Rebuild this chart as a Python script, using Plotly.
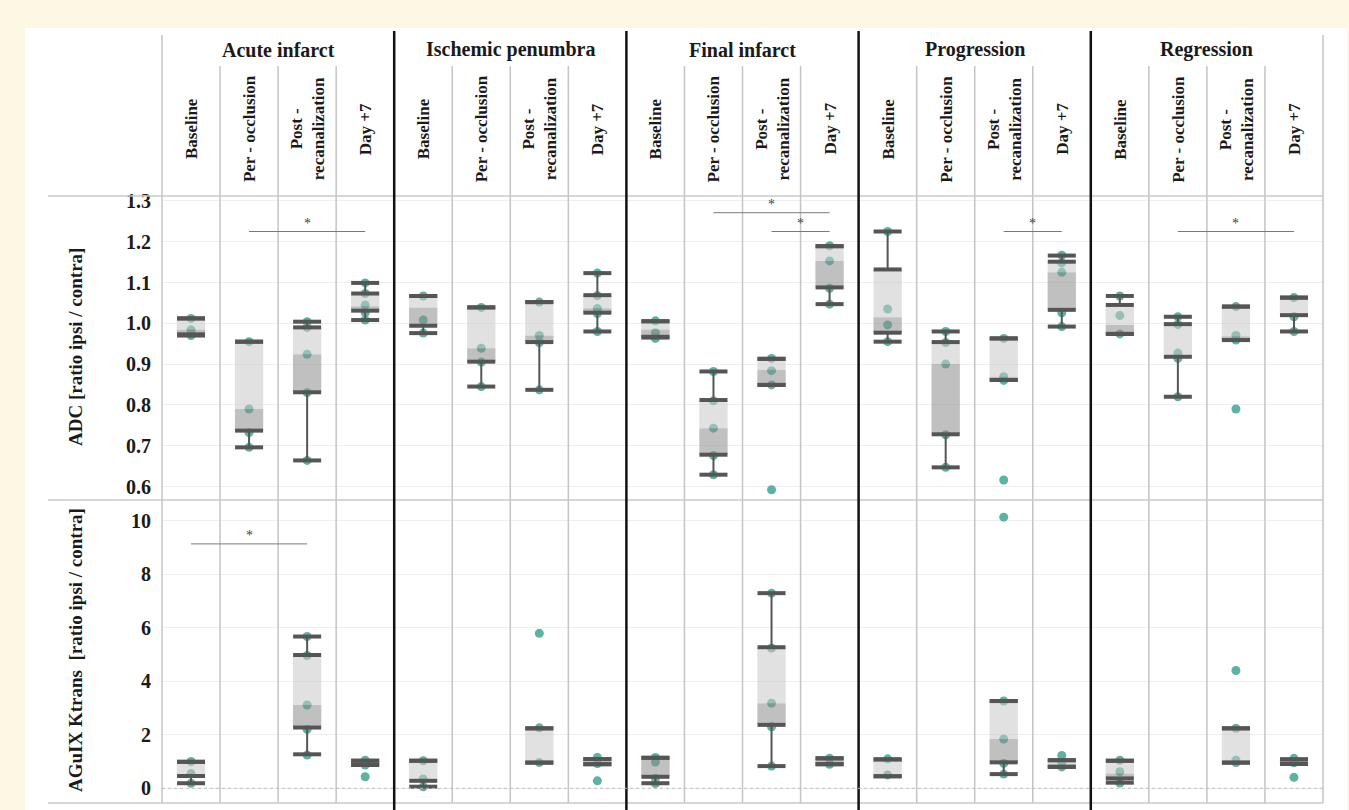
import plotly.graph_objects as go

# ---------------- data ----------------
groups = ["Acute infarct", "Ischemic penumbra", "Final infarct", "Progression", "Regression"]
phases = ["Baseline", "Per - occlusion", "Post -<br>recanalization", "Day +7"]

adc_ticks = [0.6, 0.7, 0.8, 0.9, 1.0, 1.1, 1.2, 1.3]
kt_ticks = [0, 2, 4, 6, 8, 10]

# ADC box statistics, one value per column (group x phase)
adc_low = [0.970, 0.696, 0.664, 1.008, 0.976, 0.845, 0.837, 0.980, 0.965, 0.629, 0.849, 1.047,
           0.955, 0.647, 0.861, 0.992, 0.974, 0.820, 0.959, 0.980]
adc_q1 = [0.973, 0.737, 0.831, 1.031, 0.994, 0.906, 0.954, 1.026, 0.967, 0.678, 0.849, 1.088,
          0.977, 0.728, 0.861, 1.033, 0.974, 0.918, 0.959, 1.020]
adc_med = [0.985, 0.790, 0.924, 1.042, 1.039, 0.939, 0.970, 1.037, 0.985, 0.743, 0.886, 1.153,
           1.015, 0.900, 0.869, 1.125, 0.996, 0.920, 0.968, 1.020]
adc_q3 = [1.012, 0.955, 0.990, 1.073, 1.067, 1.039, 1.052, 1.069, 1.005, 0.812, 0.913, 1.189,
          1.132, 0.954, 0.963, 1.151, 1.045, 0.998, 1.041, 1.063]
adc_high = [1.012, 0.955, 1.004, 1.099, 1.067, 1.039, 1.052, 1.123, 1.005, 0.882, 0.913, 1.189,
            1.225, 0.980, 0.963, 1.166, 1.067, 1.016, 1.041, 1.063]
adc_points = [
    [1.012, 0.984, 0.970, 0.975],
    [0.955, 0.790, 0.732, 0.696],
    [1.004, 0.990, 0.924, 0.830, 0.664],
    [1.099, 1.073, 1.045, 1.026, 1.008],
    [1.067, 1.008, 0.976],
    [1.039, 0.939, 0.905, 0.845],
    [1.052, 0.970, 0.953, 0.837],
    [1.123, 1.068, 1.036, 1.024, 0.980],
    [1.006, 0.977, 0.963],
    [0.882, 0.810, 0.743, 0.676, 0.629],
    [0.914, 0.884, 0.849, 0.592],
    [1.190, 1.153, 1.086, 1.047],
    [1.225, 1.035, 0.996, 0.955],
    [0.980, 0.953, 0.900, 0.727, 0.647],
    [0.963, 0.869, 0.860, 0.616],
    [1.167, 1.148, 1.125, 1.026, 0.992],
    [1.067, 1.019, 0.974],
    [1.016, 0.997, 0.927, 0.914, 0.820],
    [1.041, 0.970, 0.959, 0.790],
    [1.063, 1.016, 0.980],
]

# AGuIX Ktrans box statistics (None = no measurement)
kt_low = [0.19, None, 1.27, 0.87, 0.06, None, 0.96, 0.90, 0.19, None, 0.83, 0.90,
          0.45, None, 0.53, 0.80, 0.21, None, 0.96, 0.91]
kt_q1 = [0.46, None, 2.27, 0.87, 0.28, None, 0.96, 0.90, 0.43, None, 2.37, 0.90,
         0.45, None, 0.97, 0.80, 0.37, None, 0.96, 0.91]
kt_med = [0.48, None, 3.11, 0.95, 0.30, None, 0.96, 0.97, 1.10, None, 3.18, 1.08,
          0.47, None, 1.84, 0.92, 0.55, None, 0.96, 0.95]
kt_q3 = [0.99, None, 4.98, 1.03, 1.03, None, 2.24, 1.09, 1.14, None, 5.27, 1.12,
         1.08, None, 3.26, 1.05, 1.03, None, 2.24, 1.08]
kt_high = [0.99, None, 5.67, 1.03, 1.03, None, 2.24, 1.09, 1.14, None, 7.29, 1.12,
           1.08, None, 3.26, 1.05, 1.03, None, 2.24, 1.08]
kt_points = [
    [1.00, 0.55, 0.19],
    [],
    [5.67, 4.96, 3.11, 2.20, 1.24],
    [1.05, 0.87, 0.43],
    [1.03, 0.35, 0.06],
    [],
    [2.26, 0.96, 5.79],
    [1.15, 0.92, 0.28],
    [1.15, 0.98, 0.38, 0.18],
    [],
    [7.29, 5.24, 3.18, 2.30, 0.83],
    [1.12, 0.90],
    [1.10, 0.50],
    [],
    [10.13, 3.26, 1.84, 0.93, 0.53],
    [1.23, 0.98, 0.80],
    [1.05, 0.62, 0.20],
    [],
    [2.24, 1.05, 0.96, 4.40],
    [1.12, 0.95, 0.41],
]

# significance brackets: (from column, to column, level)
adc_sig = [(1, 3, 1.225), (9, 11, 1.271), (10, 11, 1.225), (14, 15, 1.225), (17, 19, 1.225)]
kt_sig = [(0, 2, 9.13)]

# ---------------- styling ----------------
TEAL = "#5cb3a4"
DARK = "#555555"
LIGHT_FILL = "rgba(200,200,200,0.55)"
DARK_FILL = "rgba(140,140,140,0.55)"
SERIF = "Liberation Serif"
TXT = "#1a1a1a"
HW = 0.244  # half box width in column units

W, H = 1349, 810
ML, MR, MT, MB = 162, 26, 196, 7
PW = W - ML - MR
PH = H - MT - MB
ncol = len(groups) * len(phases)


def py2paper(py):
    return (H - MB - py) / PH


def px2paper(px):
    return (px - ML) / PW


fig = go.Figure()


def add_metric(lo, q1, med, q3, hi, pts, yax):
    xs, ys = [], []
    for i, p in enumerate(pts):
        for v in p:
            xs.append(i)
            ys.append(v)
    fig.add_trace(go.Scatter(x=xs, y=ys, mode="markers", yaxis=yax, hoverinfo="y",
                             marker=dict(color=TEAL, size=9, line=dict(width=0))))
    dx, dy, lx, ly, wx, wy, cx, cy = [], [], [], [], [], [], [], []
    for i in range(len(lo)):
        if q1[i] is None:
            continue
        dx += [i - HW, i + HW, i + HW, i - HW, i - HW, None]
        dy += [q1[i], q1[i], med[i], med[i], q1[i], None]
        lx += [i - HW, i + HW, i + HW, i - HW, i - HW, None]
        ly += [med[i], med[i], q3[i], q3[i], med[i], None]
        wx += [i, i, None, i, i, None]
        wy += [lo[i], q1[i], None, q3[i], hi[i], None]
        cx += [i, i, i, i]
        cy += [lo[i], q1[i], q3[i], hi[i]]
    fig.add_trace(go.Scatter(x=dx, y=dy, mode="lines", fill="toself", fillcolor=DARK_FILL,
                             line=dict(width=0), yaxis=yax, hoverinfo="skip"))
    fig.add_trace(go.Scatter(x=lx, y=ly, mode="lines", fill="toself", fillcolor=LIGHT_FILL,
                             line=dict(width=0), yaxis=yax, hoverinfo="skip"))
    fig.add_trace(go.Scatter(x=wx, y=wy, mode="lines", line=dict(color=DARK, width=2),
                             yaxis=yax, hoverinfo="skip"))
    fig.add_trace(go.Scatter(x=cx, y=cy, mode="markers", yaxis=yax, hoverinfo="skip",
                             marker=dict(symbol="line-ew", size=20,
                                         line=dict(color=DARK, width=4))))


add_metric(adc_low, adc_q1, adc_med, adc_q3, adc_high, adc_points, "y2")
add_metric(kt_low, kt_q1, kt_med, kt_q3, kt_high, kt_points, "y")

shapes = []
annotations = []

# white panel
shapes.append(dict(type="rect", xref="paper", yref="paper", x0=px2paper(25), x1=px2paper(1347),
                   y0=py2paper(812), y1=py2paper(28), fillcolor="white", line=dict(width=0),
                   layer="below"))
# horizontal separators
for pyv in [196, 500, 803]:
    shapes.append(dict(type="line", xref="paper", yref="paper", x0=px2paper(48), x1=1,
                       y0=py2paper(pyv), y1=py2paper(pyv), line=dict(color="#c9c9c9", width=1.5)))
# vertical separators
for b in range(ncol + 1):
    xp = b / ncol
    if b == 0 or b == ncol:
        shapes.append(dict(type="line", xref="paper", yref="paper", x0=xp, x1=xp,
                           y0=0, y1=py2paper(35), line=dict(color="#c4c4c4", width=1.5)))
    elif b % len(phases) == 0:
        shapes.append(dict(type="line", xref="paper", yref="paper", x0=xp, x1=xp,
                           y0=py2paper(812), y1=py2paper(31), line=dict(color="#111111", width=2.5)))
    else:
        shapes.append(dict(type="line", xref="paper", yref="paper", x0=xp, x1=xp,
                           y0=0, y1=py2paper(66), line=dict(color="#c4c4c4", width=1.5)))
# dotted zero line for Ktrans
shapes.append(dict(type="line", xref="paper", yref="y", x0=0, x1=1, y0=0, y1=0,
                   line=dict(color="#bdbdbd", width=1, dash="dot")))

# significance brackets
for (a, b, lev), yr in [(s, "y2") for s in adc_sig] + [(s, "y") for s in kt_sig]:
    shapes.append(dict(type="line", xref="x", yref=yr, x0=a, x1=b, y0=lev, y1=lev,
                       line=dict(color="#7a7a7a", width=1)))
    annotations.append(dict(x=(a + b) / 2, y=lev, xref="x", yref=yr, text="*", showarrow=False,
                            xanchor="center", yanchor="bottom", yshift=-1,
                            font=dict(family=SERIF, size=14, color="#444444")))

# header labels
for g, name in enumerate(groups):
    annotations.append(dict(x=g * len(phases) + (len(phases) - 1) / 2, y=py2paper(50), xref="x",
                            yref="paper", text=name, showarrow=False,
                            xanchor="center", yanchor="middle",
                            font=dict(family=SERIF, size=20, color=TXT, weight="bold")))
    for p, ph in enumerate(phases):
        annotations.append(dict(x=g * len(phases) + p, y=py2paper(129), xref="x", yref="paper",
                                text=ph, showarrow=False, textangle=-90,
                                xanchor="center", yanchor="middle",
                                font=dict(family=SERIF, size=17, color=TXT, weight="bold")))

# axis titles
annotations.append(dict(x=px2paper(75), y=py2paper(347), xref="paper", yref="paper",
                        text="ADC [ratio ipsi / contra]", showarrow=False, textangle=-90,
                        xanchor="center", yanchor="middle",
                        font=dict(family=SERIF, size=19, color=TXT, weight="bold")))
annotations.append(dict(x=px2paper(75), y=py2paper(650), xref="paper", yref="paper",
                        text="AGuIX Ktrans  [ratio ipsi / contra]", showarrow=False, textangle=-90,
                        xanchor="center", yanchor="middle",
                        font=dict(family=SERIF, size=19, color=TXT, weight="bold")))

split = py2paper(500)
tickfont = dict(family=SERIF, size=20, color=TXT, weight="bold")
fig.update_layout(
    width=W, height=H,
    margin=dict(l=ML, r=MR, t=MT, b=MB, pad=0),
    paper_bgcolor="#fdf8e4",
    plot_bgcolor="white",
    showlegend=False,
    xaxis=dict(range=[-0.5, ncol - 0.5], showgrid=False, showticklabels=False, zeroline=False,
               showline=False, ticks=""),
    yaxis=dict(domain=[0, split], range=[-0.549, 10.77], tickvals=kt_ticks,
               ticktext=[str(t) for t in kt_ticks], showgrid=True, gridcolor="#efefef",
               zeroline=False, showline=False, tickfont=tickfont, ticklabelstandoff=10),
    yaxis2=dict(domain=[split, 1], range=[0.567, 1.312], anchor="x", tickvals=adc_ticks,
                ticktext=[f"{t:.1f}" for t in adc_ticks], showgrid=True, gridcolor="#efefef",
                zeroline=False, showline=False, tickfont=tickfont, ticklabelstandoff=10),
    shapes=shapes,
    annotations=annotations,
)

fig.write_html("out.html", config={"displayModeBar": False},
               post_script="document.body.style.margin='0';")
